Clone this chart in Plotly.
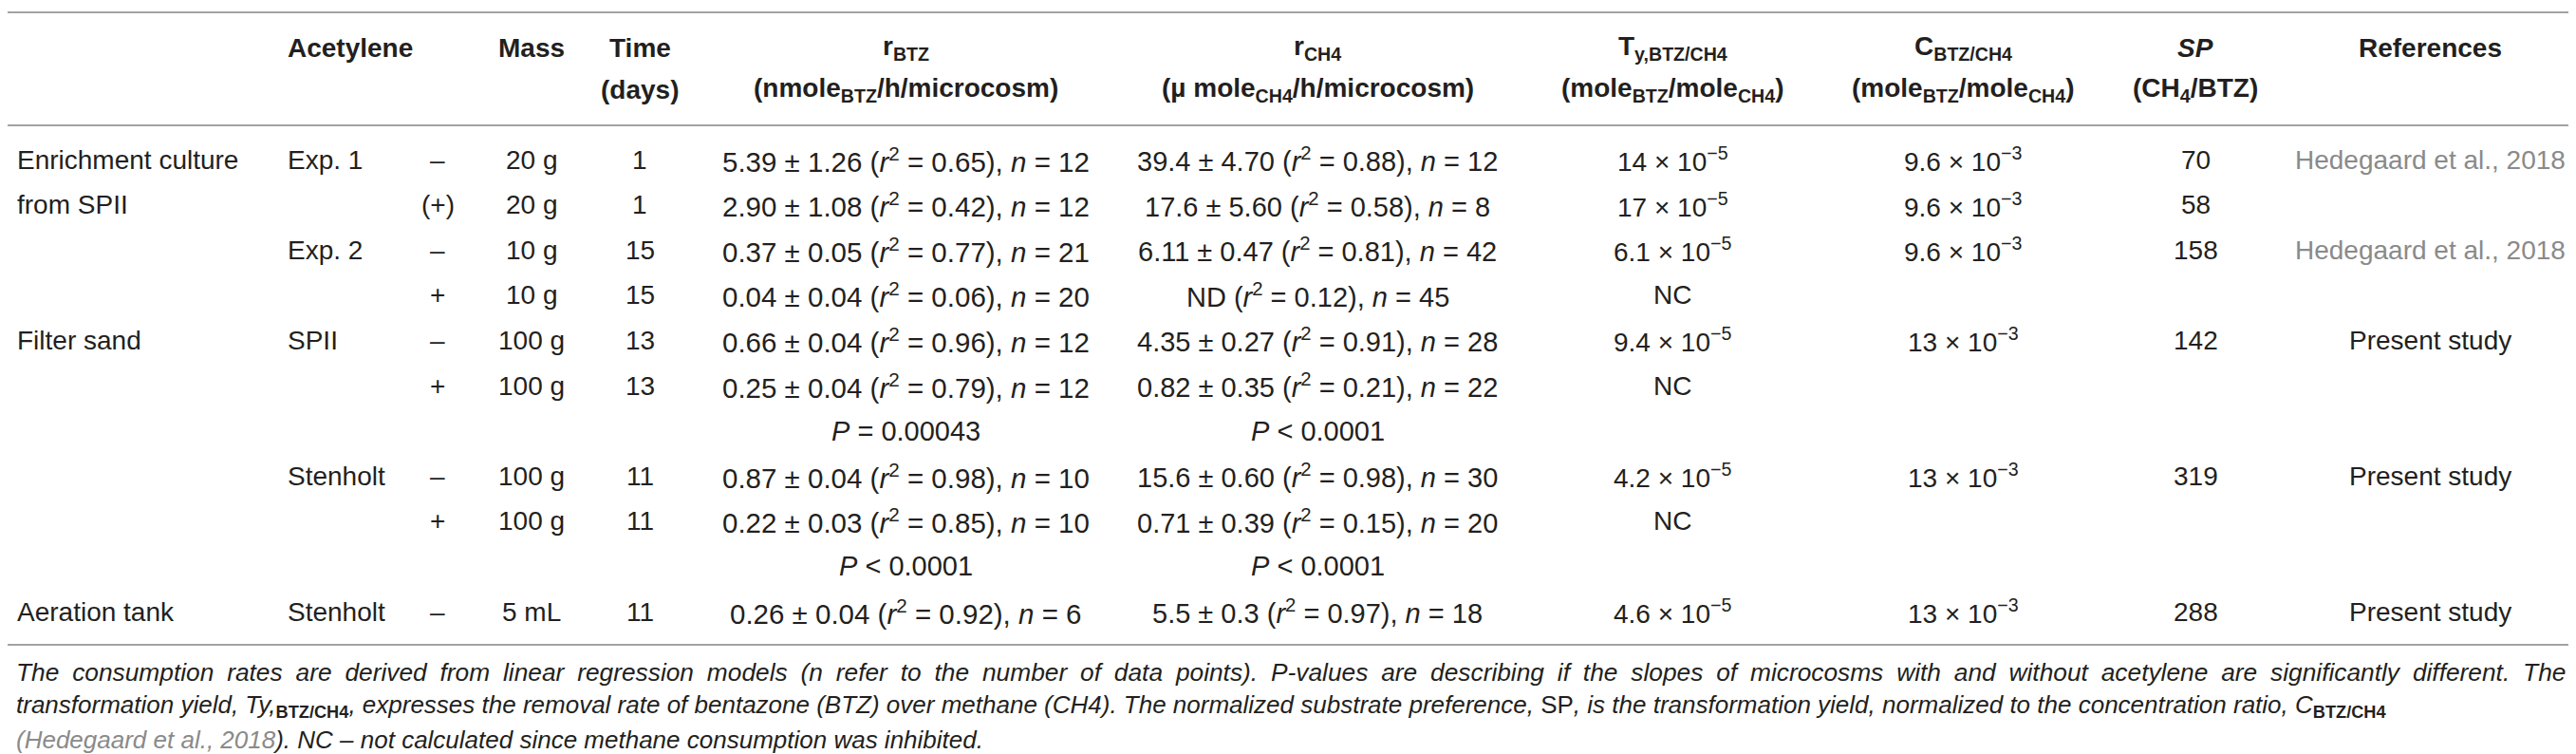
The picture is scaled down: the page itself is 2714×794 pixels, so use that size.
import plotly.graph_objects as go

# ---- table content -------------------------------------------------------
site = ["Enrichment culture", "from SPII", "", "", "Filter sand", "", "", "", "Aeration tank"]
source = ["Exp. 1", "", "Exp. 2", "", "SPII", "", "Stenholt", "", "Stenholt"]
acetylene = ["–", "(+)", "–", "+", "–", "+", "–", "+", "–"]
mass = ["20 g", "20 g", "10 g", "10 g", "100 g", "100 g", "100 g", "100 g", "5 mL"]
days = [1, 1, 15, 15, 13, 13, 11, 11, 11]

btz_rate = ["5.39 ± 1.26", "2.90 ± 1.08", "0.37 ± 0.05", "0.04 ± 0.04", "0.66 ± 0.04",
            "0.25 ± 0.04", "0.87 ± 0.04", "0.22 ± 0.03", "0.26 ± 0.04"]
btz_r2 = ["0.65", "0.42", "0.77", "0.06", "0.96", "0.79", "0.98", "0.85", "0.92"]
btz_n = [12, 12, 21, 20, 12, 12, 10, 10, 6]

ch4_rate = ["39.4 ± 4.70", "17.6 ± 5.60", "6.11 ± 0.47", "ND", "4.35 ± 0.27",
            "0.82 ± 0.35", "15.6 ± 0.60", "0.71 ± 0.39", "5.5 ± 0.3"]
ch4_r2 = ["0.88", "0.58", "0.81", "0.12", "0.91", "0.21", "0.98", "0.15", "0.97"]
ch4_n = [12, 8, 42, 45, 28, 22, 30, 20, 18]

ty_coef = ["14", "17", "6.1", "NC", "9.4", "NC", "4.2", "NC", "4.6"]    # x 10^-5
c_coef = ["9.6", "9.6", "9.6", "", "13", "", "13", "", "13"]           # x 10^-3
sp = ["70", "58", "158", "", "142", "", "319", "", "288"]
refs = ["Hedegaard et al., 2018", "", "Hedegaard et al., 2018", "", "Present study",
        "", "Present study", "", "Present study"]

# P-value rows (slope comparison with / without acetylene)
p_btz = ["= 0.00043", "&lt; 0.0001"]
p_ch4 = ["&lt; 0.0001", "&lt; 0.0001"]

# row slots: measurement rows and the two P rows in between
row_slot = [0, 1, 2, 3, 4, 5, 7, 8, 10]
p_slot = [6, 9]

# ---- layout settings -----------------------------------------------------
W, H = 2714, 794
FONT = "Liberation Sans"
INK = "#231f20"
LINK = "#8a8a8a"
RULE = "#a3a3a3"
SIZE = 28

cx = dict(site=8, source=293, acet=453, mass=552, days=666, btz=946,
          ch4=1380, ty=1754, c=2060, sp=2305, ref=2552)
row_y0, row_dy = 160, 47.6
head_y = [42, 86]

fig = go.Figure()


def put(x, y, text, anchor="center", color=INK, size=SIZE):
    if text == "":
        return
    fig.add_annotation(x=x, y=y, text=text, showarrow=False, xanchor=anchor,
                       yanchor="middle", align="left" if anchor == "left" else "center",
                       font=dict(family=FONT, size=size, color=color))


def rate(r, r2, n):
    return f"{r} (<i>r</i><sup>2</sup> = {r2}), <i>n</i> = {n}"


# header
put(cx["source"], head_y[0], "<b>Acetylene</b>", "left")
put(cx["mass"], head_y[0], "<b>Mass</b>")
put(cx["days"], head_y[0], "<b>Time</b>")
put(cx["days"], head_y[1], "<b>(days)</b>")
put(cx["btz"], head_y[0], "<b>r<sub>BTZ</sub></b>")
put(cx["btz"], head_y[1], "<b>(nmole<sub>BTZ</sub>/h/microcosm)</b>")
put(cx["ch4"], head_y[0], "<b>r<sub>CH4</sub></b>")
put(cx["ch4"], head_y[1], "<b>(µ mole<sub>CH4</sub>/h/microcosm)</b>")
put(cx["ty"], head_y[0], "<b>T<sub>y,BTZ/CH4</sub></b>")
put(cx["ty"], head_y[1], "<b>(mole<sub>BTZ</sub>/mole<sub>CH4</sub>)</b>")
put(cx["c"], head_y[0], "<b>C<sub>BTZ/CH4</sub></b>")
put(cx["c"], head_y[1], "<b>(mole<sub>BTZ</sub>/mole<sub>CH4</sub>)</b>")
put(cx["sp"], head_y[0], "<b><i>SP</i></b>")
put(cx["sp"], head_y[1], "<b>(CH<sub>4</sub>/BTZ)</b>")
put(cx["ref"], head_y[0], "<b>References</b>")

# body
for i, s in enumerate(row_slot):
    y = row_y0 + row_dy * s
    put(cx["site"], y, site[i], "left")
    put(cx["source"], y, source[i], "left")
    put(cx["acet"], y, acetylene[i])
    put(cx["mass"], y, mass[i])
    put(cx["days"], y, str(days[i]))
    put(cx["btz"], y, rate(btz_rate[i], btz_r2[i], btz_n[i]), size=29.5)
    put(cx["ch4"], y, rate(ch4_rate[i], ch4_r2[i], ch4_n[i]), size=29)
    put(cx["ty"], y, ty_coef[i] if ty_coef[i] == "NC" else f"{ty_coef[i]} × 10<sup>−5</sup>")
    if c_coef[i]:
        put(cx["c"], y, f"{c_coef[i]} × 10<sup>−3</sup>")
    put(cx["sp"], y, sp[i])
    put(cx["ref"], y, refs[i], color=LINK if refs[i].startswith("Hede") else INK)

for i, s in enumerate(p_slot):
    y = row_y0 + row_dy * s
    put(cx["btz"], y, f"<i>P</i> {p_btz[i]}", size=29)
    put(cx["ch4"], y, f"<i>P</i> {p_ch4[i]}", size=29)

# rules
for y in [5, 124, 671]:
    fig.add_shape(type="line", x0=0, x1=2700, y0=y, y1=y, line=dict(color=RULE, width=2))

# caption (first line stretched a little to mimic the justified block)
line1 = ("The consumption rates are derived from linear regression models (n refer to the number of data points). "
         "P-values are describing if the slopes of microcosms with and without acetylene are significantly different. The")
cap = [
    "<i>" + line1.replace(" ", " \u2005") + "</i>",
    "<i>transformation yield, Ty,</i><b><sub>BTZ/CH4</sub></b><i>, expresses the removal rate of bentazone (BTZ) over "
    "methane (CH4). The normalized substrate preference, </i>SP<i>, is the transformation yield, normalized to the "
    "concentration ratio, C</i><b><sub>BTZ/CH4</sub></b>",
    f"<i><span style='color:{LINK}'>(Hedegaard et al., 2018</span>). NC – not calculated since methane consumption was inhibited.</i>",
]
for j, t in enumerate(cap):
    put(7, 700 + 35.5 * j, t, "left", size=26.3 if j == 0 else 26)

fig.update_layout(
    width=W, height=H,
    margin=dict(l=0, r=0, t=0, b=0),
    paper_bgcolor="white", plot_bgcolor="white",
    xaxis=dict(range=[0, W], visible=False, fixedrange=True),
    yaxis=dict(range=[H, 0], visible=False, fixedrange=True),
    showlegend=False,
)

fig.write_html("out.html")
